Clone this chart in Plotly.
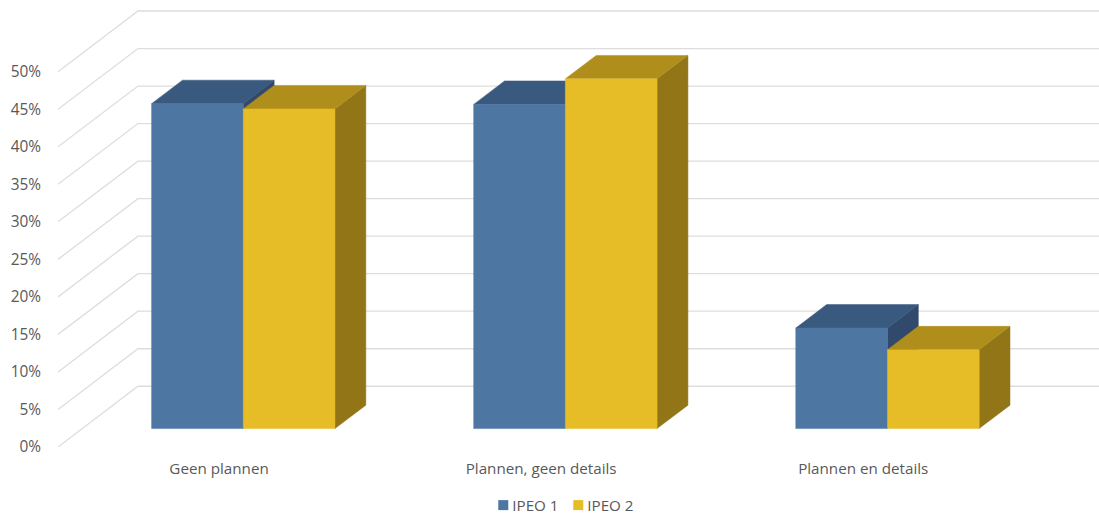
import plotly.graph_objects as go

categories = ["Geen plannen", "Plannen, geen details", "Plannen en details"]
ipeo_1 = [43.3, 43.2, 13.4]
ipeo_2 = [42.6, 46.6, 10.5]
tick_values = [0, 5, 10, 15, 20, 25, 30, 35, 40, 45, 50]
tick_labels = ["0%", "5%", "10%", "15%", "20%", "25%", "30%", "35%", "40%", "45%", "50%"]

# oblique projection: depth 0..1 -> shift in axis units
PX_PER_CAT = 322.2
PX_PER_PCT = 7.5
DX = 80 / PX_PER_CAT
DY = 60.7 / PX_PER_PCT
D_FRONT, D_BACK = 0.303, 0.689
BAR_W = 91.7 / PX_PER_CAT
FONT = "Open Sans"
GREY = "#595959"
GRID = "#DDDDDD"


def proj(x, y, d):
    return x + d * DX, y + d * DY


def poly(pts, color):
    xs, ys = zip(*pts)
    return go.Scatter(x=list(xs) + [xs[0]], y=list(ys) + [ys[0]], mode="lines", fill="toself",
                      fillcolor=color, line=dict(color=color, width=0.5), showlegend=False,
                      hoverinfo="skip")


fig = go.Figure()

# walls' gridlines
gx, gy = [], []
x_end = 2.74
for t in tick_values:
    x0, y0 = proj(-0.5, t, 0)
    x1, y1 = proj(-0.5, t, 1)
    gx += [x0, x1, x_end, None]
    gy += [y0, y1, y1, None]
fig.add_trace(go.Scatter(x=gx, y=gy, mode="lines", line=dict(color=GRID, width=1.3),
                         showlegend=False, hoverinfo="skip"))

series = [
    (ipeo_1, -1, "#4D76A3", "#3A597F", "#31496B"),
    (ipeo_2, 0, "#E6BD26", "#AF8E1C", "#917517"),
]
for i in range(len(categories)):
    for vals, off, front, top, side in series:
        v = vals[i]
        l = i + off * BAR_W
        r = l + BAR_W
        fig.add_trace(poly([proj(r, 0, D_FRONT), proj(r, 0, D_BACK), proj(r, v, D_BACK), proj(r, v, D_FRONT)], side))
        fig.add_trace(poly([proj(l, v, D_FRONT), proj(l, v, D_BACK), proj(r, v, D_BACK), proj(r, v, D_FRONT)], top))
        fig.add_trace(poly([proj(l, 0, D_FRONT), proj(r, 0, D_FRONT), proj(r, v, D_FRONT), proj(l, v, D_FRONT)], front))

for name, color in (("IPEO 1", "#4D76A3"), ("IPEO 2", "#E6BD26")):
    fig.add_trace(go.Scatter(x=[None], y=[None], mode="markers", name=name,
                             marker=dict(symbol="square", size=10, color=color)))

fig.update_layout(
    width=1099, height=516, autosize=False,
    margin=dict(l=57.6, r=0, t=0, b=69.3, pad=0),
    paper_bgcolor="white", plot_bgcolor="white",
    font=dict(family=FONT, color=GREY, size=15),
    xaxis=dict(range=[-0.5, 2.732], tickmode="array", tickvals=[0, 1, 2], ticktext=categories,
               showgrid=False, zeroline=False, showline=False, ticks="",
               ticklabelstandoff=11, tickfont=dict(family=FONT, size=15.2, color=GREY)),
    yaxis=dict(range=[0, 59.56], tickmode="array", tickvals=tick_values, ticktext=tick_labels,
               showgrid=False, zeroline=False, showline=False, ticks="",
               ticklabelstandoff=16, tickfont=dict(family=FONT, size=15.4, color=GREY)),
    legend=dict(orientation="h", x=0.470, xanchor="center", y=-0.09, yanchor="middle",
                font=dict(family=FONT, size=15.2, color=GREY), itemwidth=30,
                entrywidth=30, entrywidthmode="pixels", bgcolor="rgba(0,0,0,0)"),
)

post = """
document.body.style.margin='0';
document.querySelectorAll('.legendsymbols').forEach(function(s){
  s.setAttribute('transform','translate(11,0)');});
var lg=document.querySelector('.legend');
var sb=lg.querySelector('.scrollbox');
if(sb){sb.removeAttribute('clip-path');sb.style.clipPath='none';}
var m=/translate\\(([-\\d.]+)[, ]+([-\\d.]+)\\)/.exec(lg.getAttribute('transform'));
lg.setAttribute('transform','translate('+m[1]+','+(parseFloat(m[2])+18)+')');
"""
fig.write_html("out.html", post_script=post, config={"displayModeBar": False})
